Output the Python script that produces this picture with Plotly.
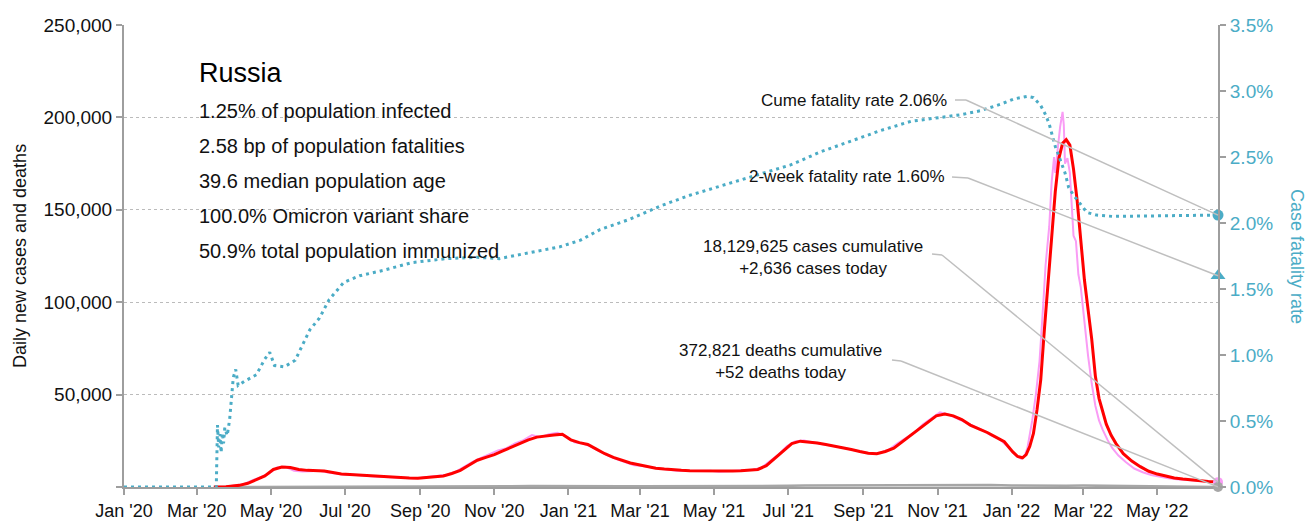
import plotly.graph_objects as go

# ---------------- data ----------------
# 7-day average of daily new cases
avg_dates = [
    "2020-03-15", "2020-03-25", "2020-04-05", "2020-04-12", "2020-04-19",
    "2020-04-26", "2020-05-03", "2020-05-10", "2020-05-17", "2020-05-24", "2020-05-31",
    "2020-06-07", "2020-06-14", "2020-06-21", "2020-06-28", "2020-07-05", "2020-07-12",
    "2020-07-19", "2020-07-26", "2020-08-02", "2020-08-09", "2020-08-16", "2020-08-23",
    "2020-08-30", "2020-09-06", "2020-09-13", "2020-09-20", "2020-09-27", "2020-10-04",
    "2020-10-11", "2020-10-18", "2020-10-25", "2020-11-01", "2020-11-08", "2020-11-15",
    "2020-11-22", "2020-11-29", "2020-12-06", "2020-12-13", "2020-12-20", "2020-12-27",
    "2021-01-03", "2021-01-10", "2021-01-17", "2021-01-24", "2021-01-31", "2021-02-07",
    "2021-02-14", "2021-02-21", "2021-02-28", "2021-03-07", "2021-03-14", "2021-03-21",
    "2021-03-28", "2021-04-04", "2021-04-11", "2021-04-18", "2021-04-25", "2021-05-02",
    "2021-05-09", "2021-05-16", "2021-05-23", "2021-05-30", "2021-06-06", "2021-06-13",
    "2021-06-20", "2021-06-27", "2021-07-04", "2021-07-11", "2021-07-18", "2021-07-25",
    "2021-08-01", "2021-08-08", "2021-08-15", "2021-08-22", "2021-08-29", "2021-09-05",
    "2021-09-12", "2021-09-19", "2021-09-26", "2021-10-03", "2021-10-10", "2021-10-17",
    "2021-10-24", "2021-10-31", "2021-11-07", "2021-11-14", "2021-11-21", "2021-11-28",
    "2021-12-05", "2021-12-12", "2021-12-19", "2021-12-26", "2022-01-02", "2022-01-06",
    "2022-01-10", "2022-01-13", "2022-01-16", "2022-01-19", "2022-01-22", "2022-01-25",
    "2022-01-28", "2022-01-31", "2022-02-03", "2022-02-06", "2022-02-09", "2022-02-12",
    "2022-02-15", "2022-02-18", "2022-02-21", "2022-02-24", "2022-02-27", "2022-03-02",
    "2022-03-05", "2022-03-08", "2022-03-11", "2022-03-14", "2022-03-17", "2022-03-20",
    "2022-03-24", "2022-03-28", "2022-04-03", "2022-04-10", "2022-04-17", "2022-04-24",
    "2022-05-01", "2022-05-08", "2022-05-15", "2022-05-22", "2022-05-29", "2022-06-05",
    "2022-06-12", "2022-06-20",
]
avg_cases = [
    0, 100, 900, 2000, 4000,
    6000, 9500, 10800, 10500, 9500, 9000,
    8900, 8600, 7800, 7000, 6700, 6400,
    6000, 5700, 5400, 5200, 5000, 4900,
    4800, 5100, 5400, 6000, 7300, 9000,
    11800, 14500, 16000, 17500, 19500, 21500,
    23500, 25500, 27000, 27800, 28200, 28500,
    25500, 24000, 23000, 20500, 18000, 16000,
    14500, 13000, 12000, 11000, 10200, 9700,
    9200, 9000, 8800, 8700, 8700, 8600,
    8500, 8600, 8800, 9000, 9500, 11500,
    15500, 20000, 23500, 24800, 24500, 23800,
    23000, 22200, 21300, 20300, 19200, 18300,
    18000, 19200, 21000, 24500, 27800, 31500,
    35000, 38500, 39500, 38500, 36500, 33500,
    31500, 29500, 27000, 24500, 19000, 16500,
    15800, 17500, 22000, 29000, 42000, 58000,
    85000, 108000, 135000, 160000, 178000, 186000,
    188000, 185000, 172000, 155000, 132000, 112000,
    96000, 80000, 60000, 48000, 41000, 34000,
    28000, 23500, 18000, 14000, 11000, 8500,
    7000, 5800, 4900, 4300, 3800, 3300,
    3000, 2700,
]

# raw daily new cases
daily_dates = [
    "2020-03-18", "2020-03-25", "2020-04-01", "2020-04-08", "2020-04-15",
    "2020-04-22", "2020-04-29", "2020-05-06", "2020-05-13", "2020-05-20", "2020-05-27",
    "2020-06-03", "2020-06-10", "2020-06-17", "2020-06-24", "2020-07-01", "2020-07-08",
    "2020-07-15", "2020-07-22", "2020-07-29", "2020-08-05", "2020-08-12", "2020-08-19",
    "2020-08-26", "2020-09-02", "2020-09-09", "2020-09-16", "2020-09-23", "2020-09-30",
    "2020-10-07", "2020-10-14", "2020-10-21", "2020-10-28", "2020-11-04", "2020-11-11",
    "2020-11-18", "2020-11-25", "2020-12-02", "2020-12-09", "2020-12-16", "2020-12-23",
    "2020-12-30", "2021-01-06", "2021-01-13", "2021-01-20", "2021-01-27", "2021-02-03",
    "2021-02-10", "2021-02-17", "2021-02-24", "2021-03-03", "2021-03-10", "2021-03-17",
    "2021-03-24", "2021-03-31", "2021-04-07", "2021-04-14", "2021-04-21", "2021-04-28",
    "2021-05-05", "2021-05-12", "2021-05-19", "2021-05-26", "2021-06-02", "2021-06-09",
    "2021-06-16", "2021-06-23", "2021-06-30", "2021-07-07", "2021-07-14", "2021-07-21",
    "2021-07-28", "2021-08-04", "2021-08-11", "2021-08-18", "2021-08-25", "2021-09-01",
    "2021-09-08", "2021-09-15", "2021-09-22", "2021-09-29", "2021-10-06", "2021-10-13",
    "2021-10-20", "2021-10-27", "2021-11-03", "2021-11-10", "2021-11-17", "2021-11-24",
    "2021-12-01", "2021-12-08", "2021-12-15", "2021-12-22", "2021-12-29", "2022-01-05",
    "2022-01-09", "2022-01-12", "2022-01-14", "2022-01-18", "2022-01-21", "2022-01-24",
    "2022-01-27", "2022-01-29", "2022-02-01", "2022-02-03", "2022-02-05", "2022-02-06",
    "2022-02-08", "2022-02-10", "2022-02-12", "2022-02-13", "2022-02-14", "2022-02-16",
    "2022-02-18", "2022-02-20", "2022-02-21", "2022-02-23", "2022-02-25", "2022-02-27",
    "2022-03-02", "2022-03-05", "2022-03-08", "2022-03-11", "2022-03-14", "2022-03-17",
    "2022-03-21", "2022-03-25", "2022-03-30", "2022-04-05", "2022-04-12", "2022-04-19",
    "2022-04-26", "2022-05-03", "2022-05-10", "2022-05-17", "2022-05-24", "2022-05-31",
    "2022-06-07", "2022-06-14", "2022-06-20",
]
daily_cases = [
    0, 160, 770, 1460, 3400,
    5200, 7100, 10600, 10900, 8800, 8400,
    8500, 8800, 7900, 7100, 6600, 6600,
    6400, 5800, 5500, 5200, 5100, 4800,
    4700, 5000, 5400, 6000, 6600, 8200,
    11100, 13600, 15700, 17700, 19800, 21000,
    23600, 25400, 28100, 27000, 28600, 29300,
    27400, 24200, 23500, 21700, 19300, 16900,
    15000, 13400, 11800, 11300, 10600, 9900,
    9100, 8800, 8700, 8800, 8500, 8800,
    8300, 8400, 8600, 9000, 9300, 10400,
    14000, 17600, 22200, 24800, 25100, 24100,
    23300, 22600, 21900, 20800, 19700, 18800,
    17900, 18700, 20200, 23600, 26600, 29400,
    33900, 37200, 40400, 39200, 37100, 34700,
    32600, 30800, 28000, 25900, 21600, 16700,
    15300, 17400, 21000, 36000, 50000, 68000,
    98000, 120000, 141000, 165000, 178500, 170000,
    183000, 195000, 203000, 196000, 175000, 178000,
    170000, 150000, 136000, 133000, 115000, 108000,
    88000, 71000, 56000, 44000, 36000, 31000,
    25500, 21000, 17000, 13500, 10000, 8000,
    6500, 5500, 4700, 4200, 3800, 3300,
    2950, 2800, 2636,
]

# daily deaths
death_dates = [
    "2020-03-15", "2020-04-01", "2020-04-15", "2020-05-01", "2020-05-15",
    "2020-06-01", "2020-06-15", "2020-07-01", "2020-07-15", "2020-08-01", "2020-08-15",
    "2020-09-01", "2020-09-15", "2020-10-01", "2020-10-15", "2020-11-01", "2020-11-15",
    "2020-12-01", "2020-12-15", "2021-01-01", "2021-01-15", "2021-02-01", "2021-02-15",
    "2021-03-01", "2021-03-15", "2021-04-01", "2021-04-15", "2021-05-01", "2021-05-15",
    "2021-06-01", "2021-06-15", "2021-07-01", "2021-07-15", "2021-08-01", "2021-08-15",
    "2021-09-01", "2021-09-15", "2021-10-01", "2021-10-15", "2021-11-01", "2021-11-15",
    "2021-12-01", "2021-12-15", "2022-01-01", "2022-01-15", "2022-02-01", "2022-02-15",
    "2022-03-01", "2022-03-15", "2022-04-01", "2022-04-15", "2022-05-01", "2022-05-15",
    "2022-06-01", "2022-06-20",
]
daily_deaths = [
    0, 5, 40, 80, 120,
    150, 160, 150, 130, 110, 100,
    100, 110, 150, 240, 310, 400,
    500, 560, 570, 540, 500, 440,
    390, 380, 370, 370, 360, 370,
    390, 450, 650, 760, 780, 790,
    790, 790, 870, 980, 1140, 1220,
    1200, 1080, 870, 710, 660, 720,
    760, 600, 380, 270, 170, 110,
    80, 52,
]

# cumulative case fatality rate, %
cfr_dates = [
    "2020-01-01", "2020-03-17", "2020-03-18", "2020-03-19", "2020-03-20", "2020-03-21",
    "2020-03-22", "2020-03-23", "2020-03-24", "2020-03-26", "2020-03-28", "2020-03-30",
    "2020-03-31", "2020-04-02", "2020-04-04", "2020-04-09", "2020-04-19", "2020-04-26",
    "2020-04-30", "2020-05-04", "2020-05-12", "2020-05-21", "2020-05-25", "2020-06-02",
    "2020-06-10", "2020-06-18", "2020-06-30", "2020-07-13", "2020-08-01", "2020-08-25",
    "2020-09-22", "2020-10-18", "2020-11-05", "2020-11-22", "2020-12-13", "2020-12-25",
    "2021-01-11", "2021-01-27", "2021-02-21", "2021-03-18", "2021-04-11", "2021-05-06",
    "2021-06-08", "2021-07-03", "2021-07-28", "2021-08-21", "2021-09-15", "2021-10-10",
    "2021-11-03", "2021-11-20", "2021-12-06", "2021-12-23", "2022-01-03", "2022-01-14",
    "2022-01-19", "2022-01-25", "2022-01-29", "2022-02-01", "2022-02-03", "2022-02-06",
    "2022-02-10", "2022-02-14", "2022-02-17", "2022-02-21", "2022-02-27", "2022-03-04",
    "2022-03-12", "2022-03-25", "2022-06-20",
]
cfr_values = [
    0.0, 0.0, 0.47, 0.30, 0.40, 0.26,
    0.41, 0.33, 0.45, 0.39, 0.51, 0.70,
    0.83, 0.89, 0.77, 0.80, 0.85, 0.97,
    1.02, 0.92, 0.91, 0.96, 1.04, 1.19,
    1.28, 1.42, 1.55, 1.60, 1.64, 1.70,
    1.73, 1.74, 1.73, 1.76, 1.80, 1.82,
    1.87, 1.95, 2.03, 2.13, 2.21, 2.28,
    2.37, 2.44, 2.54, 2.62, 2.70, 2.77,
    2.80, 2.82, 2.85, 2.90, 2.94, 2.96,
    2.95, 2.89, 2.82, 2.75, 2.68, 2.58,
    2.48, 2.38, 2.27, 2.21, 2.14, 2.08,
    2.06, 2.05, 2.06,
]

last_date = "2022-06-20"
cases_today = 2636
deaths_today = 52
cases_cumulative = 18129625
deaths_cumulative = 372821
cume_cfr = 2.06
two_week_cfr = 1.60

country = "Russia"
stats_lines = [
    "1.25% of population infected",
    "2.58 bp of population fatalities",
    "39.6 median population age",
    "100.0% Omicron variant share",
    "50.9% total population immunized",
]

tick_dates = [
    "2020-01-01", "2020-03-01", "2020-05-01", "2020-07-01", "2020-09-01", "2020-11-01",
    "2021-01-01", "2021-03-01", "2021-05-01", "2021-07-01", "2021-09-01", "2021-11-01",
    "2022-01-01", "2022-03-01", "2022-05-01",
]
tick_labels = [
    "Jan '20", "Mar '20", "May '20", "Jul '20", "Sep '20", "Nov '20",
    "Jan '21", "Mar '21", "May '21", "Jul '21", "Sep '21", "Nov '21",
    "Jan '22", "Mar '22", "May '22",
]
case_ticks = [0, 50000, 100000, 150000, 200000, 250000]
cfr_ticks = [0.0, 0.5, 1.0, 1.5, 2.0, 2.5, 3.0, 3.5]

# ---------------- styling ----------------
W, H = 1308, 523
ML, MR, MT, MB = 124, 90, 25, 36
PW, PH = W - ML - MR, H - MT - MB
CASE_MAX = 250000
CFR_MAX = 3.5

FONT = "Liberation Sans, Arial, Helvetica, sans-serif"
BLUE = "#4BACC6"
RED = "#FF0000"
PINK = "#F99CF5"
DEATH_GRAY = "#A6A6A6"
AXIS_GRAY = "#9E9E9E"
LEADER_GRAY = "#BFBFBF"


def px(x):
    """horizontal pixel -> paper coordinate"""
    return (x - ML) / PW


def py(y):
    """vertical pixel -> paper coordinate"""
    return (H - MB - y) / PH


fig = go.Figure()

fig.add_trace(go.Scatter(x=death_dates, y=daily_deaths, mode="lines",
                         line=dict(color=DEATH_GRAY, width=2.5), name="Daily deaths"))
fig.add_trace(go.Scatter(x=daily_dates, y=daily_cases, mode="lines",
                         line=dict(color=PINK, width=2), name="Daily cases"))
fig.add_trace(go.Scatter(x=avg_dates, y=avg_cases, mode="lines",
                         line=dict(color=RED, width=3), name="7-day average"))
fig.add_trace(go.Scatter(x=cfr_dates, y=cfr_values, mode="lines", yaxis="y2",
                         line=dict(color=BLUE, width=3, dash="3px,4px"),
                         name="Cume fatality rate"))

# end-of-series markers
fig.add_trace(go.Scatter(x=[last_date], y=[cases_today], mode="markers", cliponaxis=False,
                         marker=dict(color=PINK, size=10), name="Cases today"))
fig.add_trace(go.Scatter(x=[last_date], y=[deaths_today], mode="markers", cliponaxis=False,
                         marker=dict(color=DEATH_GRAY, size=10), name="Deaths today"))
fig.add_trace(go.Scatter(x=[last_date], y=[cume_cfr], mode="markers", yaxis="y2",
                         cliponaxis=False, marker=dict(color=BLUE, size=11),
                         name="Cume CFR"))
fig.add_trace(go.Scatter(x=[last_date], y=[two_week_cfr], mode="markers", yaxis="y2",
                         cliponaxis=False,
                         marker=dict(color=BLUE, size=13, symbol="triangle-up"),
                         name="2-week CFR"))

annotations = []
# country header and stats
annotations.append(dict(text=country, x=px(197), y=py(73), xref="paper", yref="paper",
                        xanchor="left", yanchor="middle", showarrow=False,
                        font=dict(family=FONT, size=27, color="#000")))
for i, line in enumerate(stats_lines):
    annotations.append(dict(text=line, x=px(197), y=py(111 + 35 * i), xref="paper",
                            yref="paper", xanchor="left", yanchor="middle",
                            showarrow=False, font=dict(family=FONT, size=20, color="#111")))

lab_font = dict(family=FONT, size=17, color="#111")
annotations.append(dict(text=f"Cume fatality rate {cume_cfr:.2f}%", x=px(949), y=py(101),
                        xref="paper", yref="paper", xanchor="right", yanchor="middle",
                        showarrow=False, font=lab_font))
annotations.append(dict(text=f"2-week fatality rate {two_week_cfr:.2f}%", x=px(947),
                        y=py(177), xref="paper", yref="paper", xanchor="right",
                        yanchor="middle", showarrow=False, font=lab_font))
annotations.append(dict(text=f"{cases_cumulative:,} cases cumulative<br>+{cases_today:,} cases today",
                        x=px(813), y=py(257), xref="paper", yref="paper", xanchor="center",
                        yanchor="middle", align="center", showarrow=False, font=lab_font))
annotations.append(dict(text=f"{deaths_cumulative:,} deaths cumulative<br>+{deaths_today:,} deaths today",
                        x=px(780), y=py(361), xref="paper", yref="paper", xanchor="center",
                        yanchor="middle", align="center", showarrow=False, font=lab_font))

# axis titles
annotations.append(dict(text="Daily new cases and deaths", x=px(20), y=py(256),
                        xref="paper", yref="paper", textangle=-90, showarrow=False,
                        xanchor="center", yanchor="middle",
                        font=dict(family=FONT, size=18, color="#111")))
annotations.append(dict(text="Case fatality rate", x=px(1297), y=py(256),
                        xref="paper", yref="paper", textangle=90, showarrow=False,
                        xanchor="center", yanchor="middle",
                        font=dict(family=FONT, size=18, color=BLUE)))

# leader lines from labels to the end markers
shapes = []
leaders = [
    ((955, 100), (966, 100), cume_cfr / CFR_MAX),
    ((952, 177), (968, 178), two_week_cfr / CFR_MAX),
    ((932, 254), (942, 255), cases_today / CASE_MAX),
    ((892, 360), (901, 361), deaths_today / CASE_MAX),
]
for (x0, y0), (x1, y1), end_y in leaders:
    shapes.append(dict(type="line", xref="paper", yref="paper",
                       x0=px(x0), y0=py(y0), x1=px(x1), y1=py(y1),
                       line=dict(color=LEADER_GRAY, width=1.5)))
    shapes.append(dict(type="line", xref="paper", yref="paper",
                       x0=px(x1), y0=py(y1), x1=1, y1=end_y,
                       line=dict(color=LEADER_GRAY, width=1.5)))

fig.update_layout(
    template="none",
    width=W, height=H,
    margin=dict(l=ML, r=MR, t=MT, b=MB, autoexpand=False),
    paper_bgcolor="white", plot_bgcolor="white",
    showlegend=False,
    font=dict(family=FONT, color="#111"),
    annotations=annotations,
    shapes=shapes,
    xaxis=dict(
        type="date", range=["2020-01-01", last_date],
        tickmode="array", tickvals=tick_dates, ticktext=tick_labels,
        showline=True, linecolor=AXIS_GRAY, linewidth=2, layer="below traces",
        ticks="outside", ticklen=6, tickwidth=1.5, tickcolor=AXIS_GRAY,
        showgrid=False, zeroline=False, automargin=False,
        tickfont=dict(family=FONT, size=18, color="#111"),
    ),
    yaxis=dict(
        range=[0, CASE_MAX], tickmode="array", tickvals=case_ticks,
        ticktext=["" if v == 0 else f"{v:,}" for v in case_ticks],
        showline=True, linecolor=AXIS_GRAY, linewidth=2,
        ticks="outside", ticklen=6, tickwidth=1.5, tickcolor=AXIS_GRAY,
        showgrid=True, gridcolor="#BBBBBB", griddash="dot", gridwidth=1,
        zeroline=False, automargin=False,
        tickfont=dict(family=FONT, size=19, color="#111"),
    ),
    yaxis2=dict(
        range=[0, CFR_MAX], overlaying="y", side="right", anchor="x",
        tickmode="array", tickvals=cfr_ticks,
        ticktext=[f"{v:.1f}%" for v in cfr_ticks],
        showline=True, linecolor=AXIS_GRAY, linewidth=2,
        ticks="outside", ticklen=6, tickwidth=1.5, tickcolor=AXIS_GRAY,
        showgrid=False, zeroline=False, automargin=False,
        tickfont=dict(family=FONT, size=19, color=BLUE),
    ),
)

fig.write_html("out.html")
